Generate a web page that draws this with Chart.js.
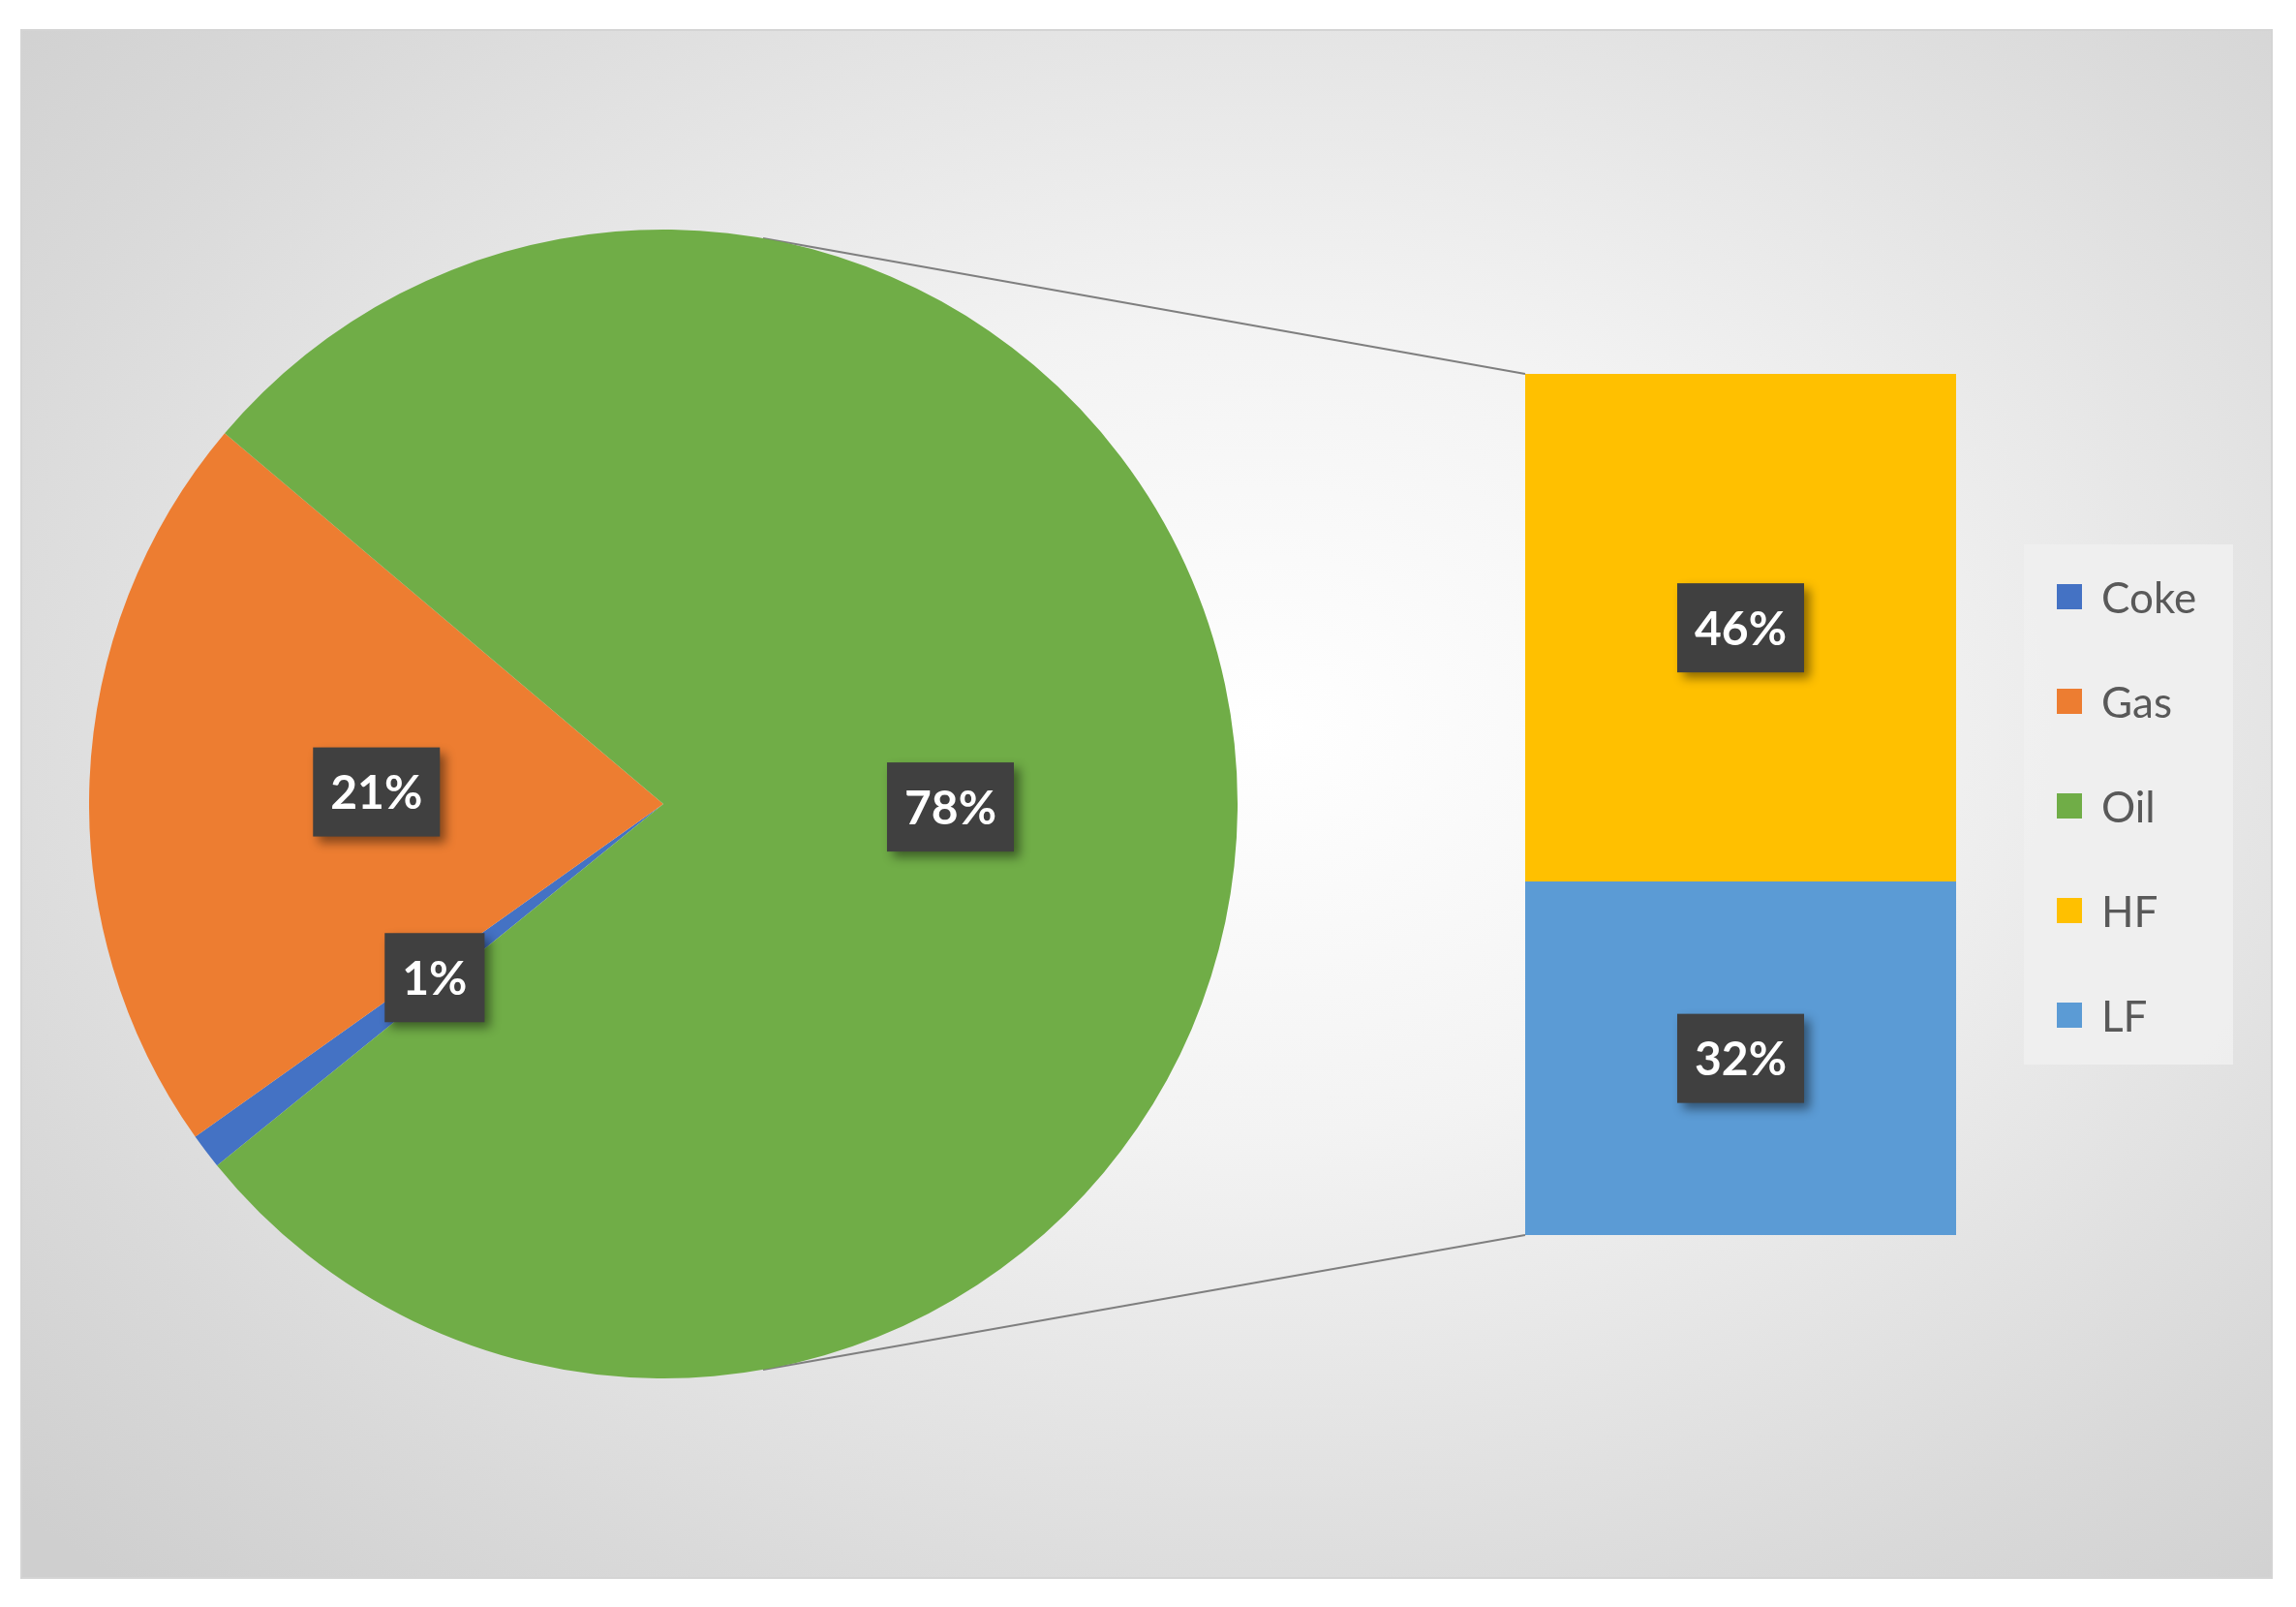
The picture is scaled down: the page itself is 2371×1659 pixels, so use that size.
<!DOCTYPE html>
<html><head><meta charset="utf-8">
<script src="https://cdn.jsdelivr.net/npm/chart.js@4"></script>
<style>
html,body{margin:0;padding:0;background:#fff;width:2371px;height:1659px;overflow:hidden;font-family:Lato,"Open Sans",sans-serif}
#frame{position:absolute;left:21px;top:30px;width:2326px;height:1600px;border:2px solid #d4d4d4;box-sizing:border-box;
background:radial-gradient(ellipse 75% 75% at 55% 45%,#ffffff 0%,#f3f3f3 35%,#d9d9d9 80%,#cfcfcf 100%)}
#pieBox{position:absolute;left:92px;top:237px;width:1186px;height:1186px}
#barBox{position:absolute;left:1575px;top:386px;width:445px;height:889px}
#over{position:absolute;left:0;top:0;pointer-events:none}
#legend{position:absolute;left:2090px;top:562px;width:216px;height:537px;background:rgba(240,240,240,0.9);box-sizing:border-box;padding-top:0}
.li{display:flex;align-items:center;height:108px;padding-left:34px;font-size:44px;color:#595959}
.sw{width:26px;height:26px;margin-right:20px}
</style></head><body>
<div id="frame"></div>
<canvas id="over" width="2371" height="1659"></canvas>
<div id="pieBox"><canvas id="pie"></canvas></div>
<div id="barBox"><canvas id="bar"></canvas></div>
<div id="legend"></div>
<script>
const pieLabels = ["Coke","Gas","Oil"];
const pieValues = [1, 21, 78];
const pieColors = ["#4472C4","#ED7D31","#70AD47"];
const barLabels = ["HF","LF"];
const barValues = [46, 32];
const barColors = ["#FFC000","#5B9BD5"];

function drawBadge(ctx, x, y, text){
  ctx.save();
  ctx.font = "bold 48px Lato, 'Open Sans', sans-serif";
  const w = ctx.measureText(text).width + 36, h = 92;
  ctx.shadowColor = "rgba(0,0,0,0.45)"; ctx.shadowBlur = 10; ctx.shadowOffsetX = 6; ctx.shadowOffsetY = 6;
  ctx.fillStyle = "#404040";
  ctx.fillRect(x - w/2, y - h/2, w, h);
  ctx.shadowColor = "transparent";
  ctx.fillStyle = "#fff"; ctx.textAlign = "center"; ctx.textBaseline = "middle";
  ctx.fillText(text, x, y + 2);
  ctx.restore();
}
const badgePlugin = {
  id: "badges",
  afterDatasetsDraw(chart){
    const ctx = chart.ctx;
    const isPie = chart.config.type === "pie";
    const total = isPie ? pieValues.reduce((a,b)=>a+b,0) : 100;
    chart.data.datasets.forEach((ds, di) => {
      const meta = chart.getDatasetMeta(di);
      meta.data.forEach((el, i) => {
        let p;
        if (isPie) p = el.tooltipPosition();
        else p = { x: el.x, y: (el.y + el.base) / 2 };
        const v = ds.data[i];
        drawBadge(ctx, p.x, p.y, Math.round(v / total * 100) + "%");
      });
    });
  }
};

const pie = new Chart(document.getElementById("pie"), {
  type: "pie",
  data: { labels: pieLabels, datasets: [{ data: pieValues, backgroundColor: pieColors, borderWidth: 0 }] },
  options: { responsive: true, maintainAspectRatio: false, animation: false, rotation: 231,
    layout: { padding: 0 }, plugins: { legend: { display: false }, tooltip: { enabled: false } } },
  plugins: [badgePlugin]
});

const bar = new Chart(document.getElementById("bar"), {
  type: "bar",
  data: { labels: ["Other"], datasets: [
    { label: barLabels[1], data: [barValues[1]], backgroundColor: barColors[1], barPercentage: 1, categoryPercentage: 1 },
    { label: barLabels[0], data: [barValues[0]], backgroundColor: barColors[0], barPercentage: 1, categoryPercentage: 1 }
  ] },
  options: { responsive: true, maintainAspectRatio: false, animation: false, layout: { padding: 0 },
    scales: { x: { stacked: true, display: false }, y: { stacked: true, display: false, min: 0, max: barValues[0] + barValues[1] } },
    plugins: { legend: { display: false }, tooltip: { enabled: false } } },
  plugins: [badgePlugin]
});

(function(){
  const ctx = document.getElementById("over").getContext("2d");
  const pr = document.getElementById("pieBox"), br = document.getElementById("barBox");
  const arc = pie.getDatasetMeta(0).data[2];
  const cx = pr.offsetLeft + arc.x, cy = pr.offsetTop + arc.y, r = arc.outerRadius;
  const bx = br.offsetLeft + bar.chartArea.left, bt = br.offsetTop + bar.chartArea.top, bb = br.offsetTop + bar.chartArea.bottom;
  ctx.strokeStyle = "#7f7f7f"; ctx.lineWidth = 2;
  [[bt, -80], [bb, 80]].forEach(([ty, ang]) => {
    const a = ang * Math.PI / 180;
    ctx.beginPath(); ctx.moveTo(cx + r*Math.cos(a), cy + r*Math.sin(a)); ctx.lineTo(bx, ty); ctx.stroke();
  });
})();

const lg = document.getElementById("legend");
pieLabels.concat(barLabels).forEach((l, i) => {
  const c = pieColors.concat(barColors)[i];
  lg.insertAdjacentHTML("beforeend", `<div class="li"><div class="sw" style="background:${c}"></div>${l}</div>`);
});
</script></body></html>
